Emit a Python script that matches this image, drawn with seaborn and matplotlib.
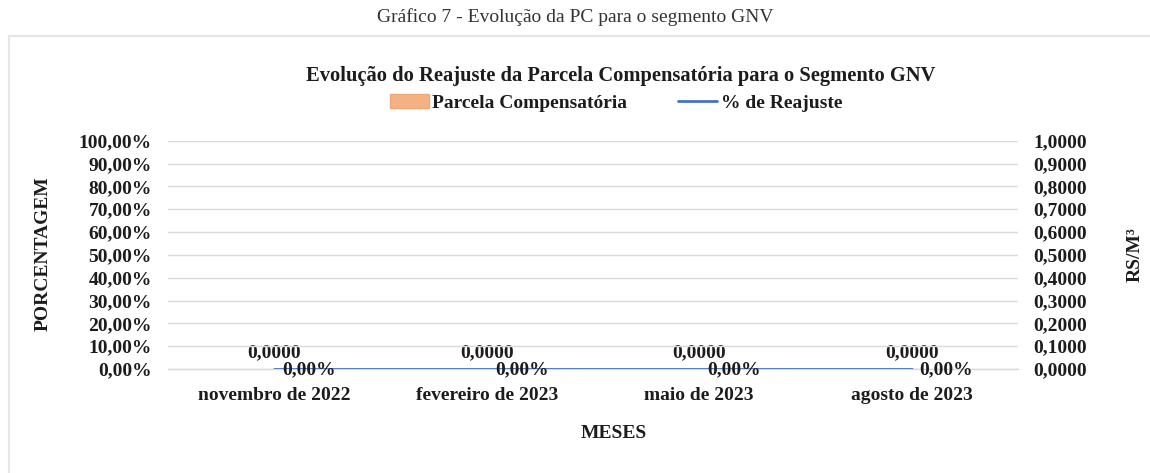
import matplotlib
matplotlib.use("Agg")
import matplotlib.pyplot as plt
import seaborn as sns
import pandas as pd
from matplotlib.patches import Rectangle
from matplotlib.lines import Line2D
from matplotlib.ticker import FuncFormatter, FixedLocator

# ---- data ----
meses = ["novembro de 2022", "fevereiro de 2023", "maio de 2023", "agosto de 2023"]
parcela_compensatoria = [0.0, 0.0, 0.0, 0.0]   # R$/M³
pct_reajuste = [0.0, 0.0, 0.0, 0.0]            # fraction (0.0 = 0,00%)
left_ticks = [0.0, 0.1, 0.2, 0.3, 0.4, 0.5, 0.6, 0.7, 0.8, 0.9, 1.0]
right_ticks = [0.0, 0.1, 0.2, 0.3, 0.4, 0.5, 0.6, 0.7, 0.8, 0.9, 1.0]

sns.set_theme(style="white")
plt.rcParams["font.family"] = ["Liberation Serif", "DejaVu Serif"]

W, H = 1150, 473
fig = plt.figure(figsize=(W / 100, H / 100), dpi=100)
fig.patch.set_facecolor("white")

def fx(px):
    return px / W

def fy(py):
    return 1 - py / H

# outer border of the chart area
fig.patches.append(Rectangle((fx(9), fy(520)), fx(1200), fy(36) - fy(520),
                             transform=fig.transFigure, fill=False,
                             edgecolor="#e6e6e6", linewidth=1.6, zorder=0))

left, right, top, bottom = 168, 1018, 140.7, 369
ax = fig.add_axes([fx(left), fy(bottom), fx(right - left), fy(top) - fy(bottom)])
ax2 = ax.twinx()

df = pd.DataFrame({"mes": meses, "pc": parcela_compensatoria, "pct": pct_reajuste})

TXT = "#1c1c1c"
FS = 14
GRID = "#d9d9d9"
BAR_C = "#f4b183"
LINE_C = "#4472c4"

sns.barplot(data=df, x="mes", y="pc", ax=ax2, color=BAR_C, width=0.6,
            errorbar=None, zorder=2, linewidth=0)
sns.pointplot(data=df, x="mes", y="pct", ax=ax, color=LINE_C, markers="",
              linestyles="-", errorbar=None, zorder=3)
for ln in ax.lines:
    ln.set_linewidth(2.0)

for a in (ax, ax2):
    a.set_xlim(-0.5, len(meses) - 0.5)
    a.set_ylim(0, 1)
    for s in a.spines.values():
        s.set_visible(False)
    a.set_xlabel("")
    a.set_ylabel("")
    a.patch.set_alpha(0)

ax.set_zorder(ax2.get_zorder() + 1)

ax.yaxis.set_major_locator(FixedLocator(left_ticks))
ax.yaxis.set_major_formatter(FuncFormatter(lambda v, p: f"{v*100:.2f}%".replace(".", ",")))
ax2.yaxis.set_major_locator(FixedLocator(right_ticks))
ax2.yaxis.set_major_formatter(FuncFormatter(lambda v, p: f"{v:.4f}".replace(".", ",")))

ax.yaxis.grid(True, color=GRID, linewidth=1.0)
ax.set_axisbelow(True)
ax.tick_params(axis="y", length=0, pad=11.5, labelsize=FS, labelcolor=TXT)
ax2.tick_params(axis="y", length=0, pad=11, labelsize=FS, labelcolor=TXT)
for t in ax.get_yticklabels() + ax2.get_yticklabels():
    t.set_fontweight("bold")

# x axis: labels at centers, tick marks at boundaries
ax.set_xticks(range(len(meses)))
ax.set_xticklabels(meses, fontsize=FS, fontweight="bold", color=TXT)
ax.tick_params(axis="x", which="major", length=0, pad=13)
ax.set_xticks([i - 0.5 for i in range(len(meses) + 1)], minor=True)
ax.tick_params(axis="x", which="minor", length=5, width=1.0, color=GRID, direction="out")
ax2.tick_params(axis="x", which="both", length=0, labelbottom=False)
ax.spines["bottom"].set_visible(True)
ax.spines["bottom"].set_color(GRID)
ax.spines["bottom"].set_linewidth(1.0)

# data labels
for i, v in enumerate(parcela_compensatoria):
    ax2.annotate(f"{v:.4f}".replace(".", ","), (i, v), xytext=(0, 16),
                 textcoords="offset pixels", ha="center", va="center",
                 fontsize=FS, fontweight="bold", color=TXT, zorder=5)
for i, v in enumerate(pct_reajuste):
    ax.annotate(f"{v*100:.2f}%".replace(".", ","), (i, v), xytext=(8, -1),
                textcoords="offset pixels", ha="left", va="center",
                fontsize=FS, fontweight="bold", color=TXT, zorder=5)

# axis titles
fig.text(fx(43), fy(254), "PORCENTAGEM", rotation=90, ha="center", va="center",
         fontsize=FS, fontweight="bold", color=TXT)
fig.text(fx(1135), fy(255), "RS/M³", rotation=90, ha="center", va="center",
         fontsize=FS, fontweight="bold", color=TXT)
fig.text(fx(614), fy(433), "MESES", ha="center", va="center",
         fontsize=FS, fontweight="bold", color=TXT)

# titles
fig.text(fx(575), fy(17), "Gráfico 7 - Evolução da PC para o segmento GNV",
         ha="center", va="center", fontsize=14, color="#333333")
fig.text(fx(621), fy(76), "Evolução do Reajuste da Parcela Compensatória para o Segmento GNV",
         ha="center", va="center", fontsize=14.8, fontweight="bold", color=TXT)

# legend
handles = [Rectangle((0, 0), 1, 1, facecolor=BAR_C, edgecolor="#f0a878"),
           Line2D([0], [0], color=LINE_C, linewidth=2.0)]
leg = fig.legend(handles, ["Parcela Compensatória", "% de Reajuste"],
                 loc="center", bbox_to_anchor=(fx(616), fy(103)), ncol=2,
                 frameon=False, handlelength=2.0, handletextpad=0.2,
                 columnspacing=2.6, borderpad=0,
                 prop={"family": "Liberation Serif", "weight": "bold", "size": FS})
for t in leg.get_texts():
    t.set_color(TXT)

fig.savefig("out.png", dpi=100, facecolor="white")
